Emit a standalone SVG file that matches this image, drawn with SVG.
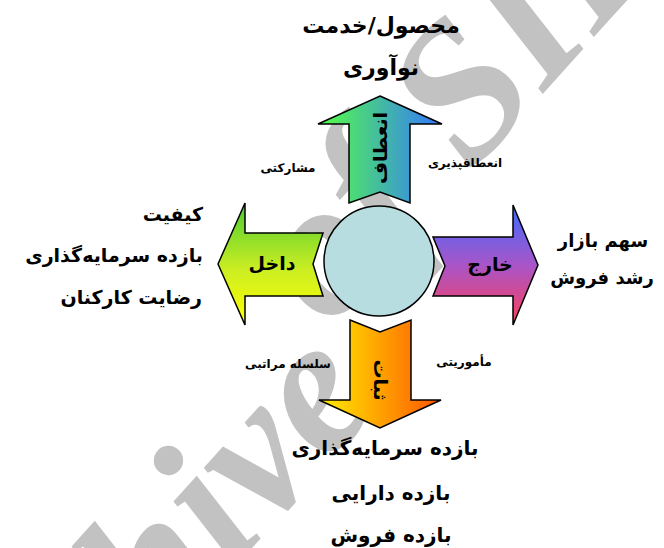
<svg xmlns="http://www.w3.org/2000/svg" width="664" height="548" viewBox="0 0 664 548">
<style>
.fa{font-family:"DejaVu Sans","Noto Sans",sans-serif;font-weight:bold;fill:#000}
.top{font-size:22px}
.bot{font-size:20px}
.side{font-size:19px}
.rside{font-size:18px}
.lab{font-size:19px}
.small{font-size:12px}
.wm{font-family:"Liberation Serif",serif;font-style:italic;font-weight:bold;font-size:195px;fill:#c2c2c2}
.arrow{stroke:#000;stroke-width:1.5;stroke-linejoin:miter}
</style>
<defs>
<linearGradient id="gUp" gradientUnits="userSpaceOnUse" x1="318" y1="0" x2="442" y2="0">
<stop offset="0" stop-color="#55ff44"/><stop offset="1" stop-color="#3377ff"/>
</linearGradient>
<linearGradient id="gDown" gradientUnits="userSpaceOnUse" x1="319" y1="0" x2="441" y2="0">
<stop offset="0" stop-color="#ffee00"/><stop offset="1" stop-color="#ff5500"/>
</linearGradient>
<linearGradient id="gLeft" gradientUnits="userSpaceOnUse" x1="0" y1="203" x2="0" y2="325">
<stop offset="0" stop-color="#4ccc33"/><stop offset="0.55" stop-color="#ccee22"/><stop offset="1" stop-color="#ffff00"/>
</linearGradient>
<linearGradient id="gRight" gradientUnits="userSpaceOnUse" x1="0" y1="205" x2="0" y2="325">
<stop offset="0" stop-color="#3d6bff"/><stop offset="0.5" stop-color="#a855c8"/><stop offset="1" stop-color="#ff3f5a"/>
</linearGradient>
</defs>
<rect width="664" height="548" fill="#fff"/>
<g id="watermark">
<text class="wm" x="-36" y="868" transform="rotate(-48 -36 868)">Archive</text>
<text class="wm" x="330" y="330" transform="rotate(-48 330 330)">of SID</text>
</g>
<g id="connectors"/>
<g id="center"><circle cx="379" cy="261" r="55" fill="#b7dde0" stroke="#000" stroke-width="1.5"/></g>
<g id="up">
<path class="arrow" fill="url(#gUp)" d="M380,96 L442,124 L410,124 L410,203 L380,192 L349,203 L349,124 L318,124 Z"/>
<text class="fa lab" x="380" y="148" transform="rotate(-90 380 148)" text-anchor="middle" dominant-baseline="central">انعطاف</text>
</g>
<g id="down">
<path class="arrow" fill="url(#gDown)" d="M350,320 L380,332 L411,320 L411,400 L441,400 L380,428 L319,400 L350,400 Z"/>
<text class="fa lab" x="381" y="380" transform="rotate(90 381 380)" text-anchor="middle" dominant-baseline="central">ثبات</text>
</g>
<g id="left">
<path class="arrow" fill="url(#gLeft)" d="M218,264 L245,203 L245,233 L323,233 L313,264 L323,296 L245,296 L245,325 Z"/>
<text class="fa lab" x="272" y="270" text-anchor="middle">داخل</text>
</g>
<g id="right">
<path class="arrow" fill="url(#gRight)" d="M433,237 L513,237 L513,205 L538,265 L513,325 L513,296 L433,296 L445,266 Z"/>
<text class="fa lab" x="490" y="271" text-anchor="middle">خارج</text>
</g>
<g id="top-text">
<text class="fa top" x="381" y="33" text-anchor="middle">محصول/خدمت</text>
<text class="fa top" x="381" y="75" text-anchor="middle">نوآوری</text>
</g>
<g id="left-text">
<text class="fa side" x="203" y="221" text-anchor="end">کیفیت</text>
<text class="fa side" x="203" y="262" text-anchor="end">بازده سرمایه&#8204;گذاری</text>
<text class="fa side" x="202" y="304" text-anchor="end">رضایت کارکنان</text>
</g>
<g id="right-text">
<text class="fa rside" x="603" y="247" text-anchor="middle">سهم بازار</text>
<text class="fa rside" x="602" y="284" text-anchor="middle">رشد فروش</text>
</g>
<g id="bottom-text">
<text class="fa bot" x="385" y="455" text-anchor="middle">بازده سرمایه&#8204;گذاری</text>
<text class="fa bot" x="391" y="500" text-anchor="middle">بازده دارایی</text>
<text class="fa bot" x="391" y="542" text-anchor="middle">بازده فروش</text>
</g>
<g id="quadrant-labels">
<text class="fa small" x="288" y="172" text-anchor="middle">مشارکتی</text>
<text class="fa small" x="465" y="167" text-anchor="middle">انعطافپذیری</text>
<text class="fa small" x="288" y="368" text-anchor="middle">سلسله مراتبی</text>
<text class="fa small" x="464" y="366" text-anchor="middle">مأموریتی</text>
</g>
</svg>
